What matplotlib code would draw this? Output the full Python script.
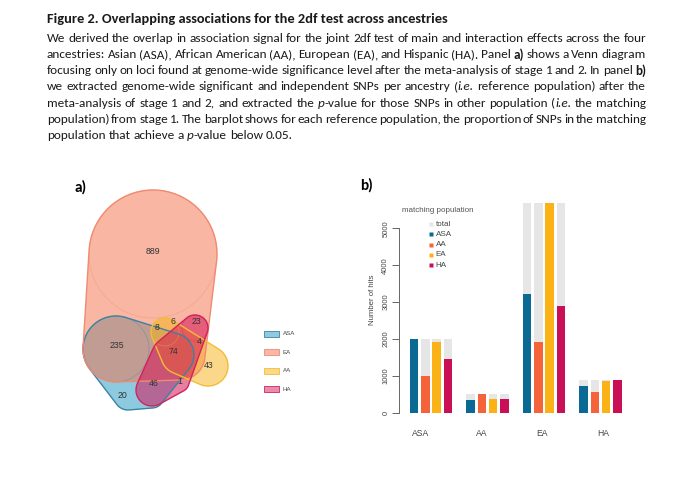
import re
import numpy as np
import matplotlib
matplotlib.use("Agg")
import matplotlib.pyplot as plt
from matplotlib import font_manager as fm
from matplotlib.patches import Polygon, Rectangle, Circle

W, H = 691, 484

# ---- caption text ----
title = "Figure 2. Overlapping associations for the 2df test across ancestries"
caption = [
    "We derived the overlap in association signal for the joint 2df test of main and interaction effects across the four",
    "ancestries: Asian (ASA), African American (AA), European (EA), and Hispanic (HA). Panel ^a)^ shows a Venn diagram",
    "focusing only on loci found at genome-wide significance level after the meta-analysis of stage 1 and 2. In panel ^b)^",
    "we extracted genome-wide significant and independent SNPs per ancestry (_i.e._ reference population) after the",
    "meta-analysis of stage 1 and 2, and extracted the _p_-value for those SNPs in other population (_i.e._ the matching",
    "population) from stage 1. The barplot shows for each reference population, the proportion of SNPs in the matching",
    "population that achieve a _p_-value below 0.05.",
]

# ---- panel a: overlap counts ----
venn_sets = ["ASA", "EA", "AA", "HA"]
venn_counts = [889, 235, 8, 6, 23, 4, 74, 43, 1, 46, 20]

# ---- panel b: hits per reference population ----
ref_pops = ["ASA", "AA", "EA", "HA"]
match_pops = ["ASA", "AA", "EA", "HA"]
totals = [2000, 505, 5700, 880]
hits = [
    [2000, 1000, 1930, 1450],
    [335, 505, 365, 365],
    [3220, 1915, 5700, 2900],
    [725, 555, 850, 880],
]

names = {f.name for f in fm.fontManager.ttflist}
cap_font = "DejaVu Sans"
for cand in ["Carlito", "Liberation Sans Narrow", "Open Sans", "Liberation Sans"]:
    if cand in names:
        cap_font = cand
        break
r_font = "Liberation Sans" if "Liberation Sans" in names else "DejaVu Sans"

fig = plt.figure(figsize=(W / 100, H / 100), dpi=100)
cv = fig.add_axes([0, 0, 1, 1])
cv.set_xlim(0, W)
cv.set_ylim(H, 0)
cv.axis("off")
rend = fig.canvas.get_renderer()


def text_w(s, **kw):
    t = cv.text(0, 0, s, **kw)
    w = t.get_window_extent(rend).width
    t.remove()
    return w


def split_word(word):
    out = []
    for p in re.split(r"(_[^_]+_|\^[^^]+\^)", word):
        if not p:
            continue
        if p.startswith("_"):
            out.append((p[1:-1], "italic", "normal"))
        elif p.startswith("^"):
            out.append((p[1:-1], "normal", "bold"))
        else:
            out.append((p, "normal", "normal"))
    return out


def measure(line, size):
    words = [split_word(w) for w in line.split(" ")]
    widths = [[text_w(s, family=cap_font, fontsize=size, style=st, weight=wt)
               for s, st, wt in w] for w in words]
    return words, widths


left, right = 47, 646
# title
tfs = 10.0
tfs *= 400 / text_w(title, family=cap_font, fontsize=tfs, weight="bold")
cv.text(left, 19, title, family=cap_font, fontsize=tfs, weight="bold",
        va="center", color="#1a1a1a")

# body size: first line with plain spaces fills the column
fs = 8.0
sp = text_w("a a", family=cap_font, fontsize=fs) - text_w("aa", family=cap_font, fontsize=fs)
w0, ws0 = measure(caption[0], fs)
nat = sum(sum(x) for x in ws0) + sp * (len(w0) - 1)
fs *= (right - left) * 0.995 / nat
space = text_w("a a", family=cap_font, fontsize=fs) - text_w("aa", family=cap_font, fontsize=fs)

y0, dy = 38.0, 16.3
for i, line in enumerate(caption):
    words, widths = measure(line, fs)
    total = sum(sum(ws) for ws in widths)
    if i < len(caption) - 1:
        gap = (right - left - total) / (len(words) - 1)
    else:
        gap = space
    x = left
    for w, ws in zip(words, widths):
        for (s, st, wt), pw in zip(w, ws):
            cv.text(x, y0 + i * dy, s, family=cap_font, fontsize=fs, style=st,
                    weight=wt, va="center", color="#1a1a1a")
            x += pw
        x += gap

# panel labels
cv.text(75, 187, "a)", family=cap_font, fontsize=11, weight="bold", va="center")
cv.text(360, 185, "b)", family=cap_font, fontsize=11, weight="bold", va="center")


# ---- Venn (hulls of circles) ----
def circle_hull(circles, n=240):
    th = np.linspace(0, 2 * np.pi, n, endpoint=False)
    pts = []
    for cx, cy, r in circles:
        pts += list(zip(cx + r * np.cos(th), cy + r * np.sin(th)))
    pts = sorted(set(pts))

    def cross(o, a, b):
        return (a[0] - o[0]) * (b[1] - o[1]) - (a[1] - o[1]) * (b[0] - o[0])

    lower, upper = [], []
    for p in pts:
        while len(lower) >= 2 and cross(lower[-2], lower[-1], p) <= 0:
            lower.pop()
        lower.append(p)
    for p in reversed(pts):
        while len(upper) >= 2 and cross(upper[-2], upper[-1], p) <= 0:
            upper.pop()
        upper.append(p)
    return np.array(lower[:-1] + upper[:-1])


shapes = {
    "ASA": [(116, 349, 33), (128, 396, 14), (152, 396, 12), (172, 355, 22)],
    "EA": [(153, 254, 64), (116, 349, 33), (180, 355, 25)],
    "AA": [(165, 332, 14), (180, 355, 19), (208, 366, 20)],
    "HA": [(195, 328, 13), (173, 358, 22), (152, 390, 16), (179, 382, 10)],
}
fills = {"ASA": (29, 151, 193), "EA": (243, 111, 73), "AA": (249, 179, 21), "HA": (214, 22, 88)}
edges = {"ASA": "#3b82a3", "EA": "#f08a72", "AA": "#f2bd35", "HA": "#d2225e"}
alphas = {"ASA": 0.5, "EA": 0.5, "AA": 0.5, "HA": 0.55}

for s in venn_sets:
    pts = circle_hull(shapes[s])
    fc = tuple(c / 255 for c in fills[s]) + (alphas[s],)
    cv.add_patch(Polygon(pts, closed=True, facecolor=fc, edgecolor="none"))
# faint inner circle outlines
for s in venn_sets:
    cx, cy, r = shapes[s][0]
    cv.add_patch(Circle((cx, cy), r, facecolor="none", edgecolor=edges[s], lw=0.6, alpha=0.35))
for s in venn_sets:
    pts = circle_hull(shapes[s])
    cv.add_patch(Polygon(pts, closed=True, facecolor="none", edgecolor=edges[s], lw=1.0))

count_pos = [(153, 252), (117, 346), (157, 327), (173, 322), (196, 322), (199, 342),
             (173, 351), (209, 366), (180, 381), (154, 383), (122, 395)]
for c, (x, y) in zip(venn_counts, count_pos):
    cv.text(x, y, str(c), ha="center", va="center", family=r_font, fontsize=6.3, color="#333333")

# venn legend
leg_order = ["ASA", "EA", "AA", "HA"]
for k, s in enumerate(leg_order):
    yy = 333.5 + k * 18.6
    fc = tuple(0.5 * c / 255 + 0.5 for c in fills[s])
    cv.add_patch(Rectangle((264.5, yy - 3), 14.5, 6, facecolor=fc, edgecolor=edges[s], lw=0.6))
    cv.text(283, yy, s, family=r_font, fontsize=4.4, va="center", color="#444444")

# ---- barplot ----
slot_px, x0_px = 11.3, 414
ax_l, ax_r, ax_b, ax_t = 399, 630, 412.7, 202.7
ymax = 5700
bx = fig.add_axes([ax_l / W, (H - ax_b) / H, (ax_r - ax_l) / W, (ax_b - ax_t) / H])
bx.patch.set_alpha(0)
bar_cols = ["#0b6a93", "#f4633a", "#fbb216", "#c90f55"]
for g in range(len(ref_pops)):
    for j in range(len(match_pops)):
        x = g * 5 + j
        bx.bar(x, totals[g], width=0.76, color="#e6e6e6", lw=0)
        bx.bar(x, hits[g][j], width=0.76, color=bar_cols[j], lw=0)
bx.set_xlim((ax_l - x0_px) / slot_px, (ax_r - x0_px) / slot_px)
bx.set_ylim(0, ymax)
for spn in ["top", "right", "bottom"]:
    bx.spines[spn].set_visible(False)
bx.spines["left"].set_bounds(0, 5000)
bx.spines["left"].set_color("#666666")
bx.spines["left"].set_linewidth(0.7)
bx.set_yticks(range(0, 5001, 1000))
bx.tick_params(axis="y", length=5, width=0.7, color="#666666", labelsize=5.5,
               labelcolor="#444444", pad=2)
for lab in bx.get_yticklabels():
    lab.set_rotation(90)
    lab.set_va("center")
    lab.set_family(r_font)
bx.set_xticks([0.6 + 5.38 * g for g in range(len(ref_pops))])
bx.set_xticklabels(ref_pops, family=r_font, fontsize=6.2, color="#444444")
bx.tick_params(axis="x", length=0, pad=12)

cv.text(372.5, 300, "Number of hits", rotation=90, ha="center", va="center",
        family=r_font, fontsize=5.6, color="#444444")

# bar legend
cv.text(402.5, 211, "matching population", family=r_font, fontsize=5.8,
        va="center", color="#555555")
leg_labels = ["total"] + match_pops
leg_cols = ["#e6e6e6"] + bar_cols
for k, (lab, col) in enumerate(zip(leg_labels, leg_cols)):
    yy = 224 + k * 10.3
    cv.plot(430.7, yy, "s", ms=2.6, color=col, mec="none")
    cv.text(435.5, yy, lab, family=r_font, fontsize=5.8, va="center", color="#444444")

fig.savefig("out.png", dpi=100)
